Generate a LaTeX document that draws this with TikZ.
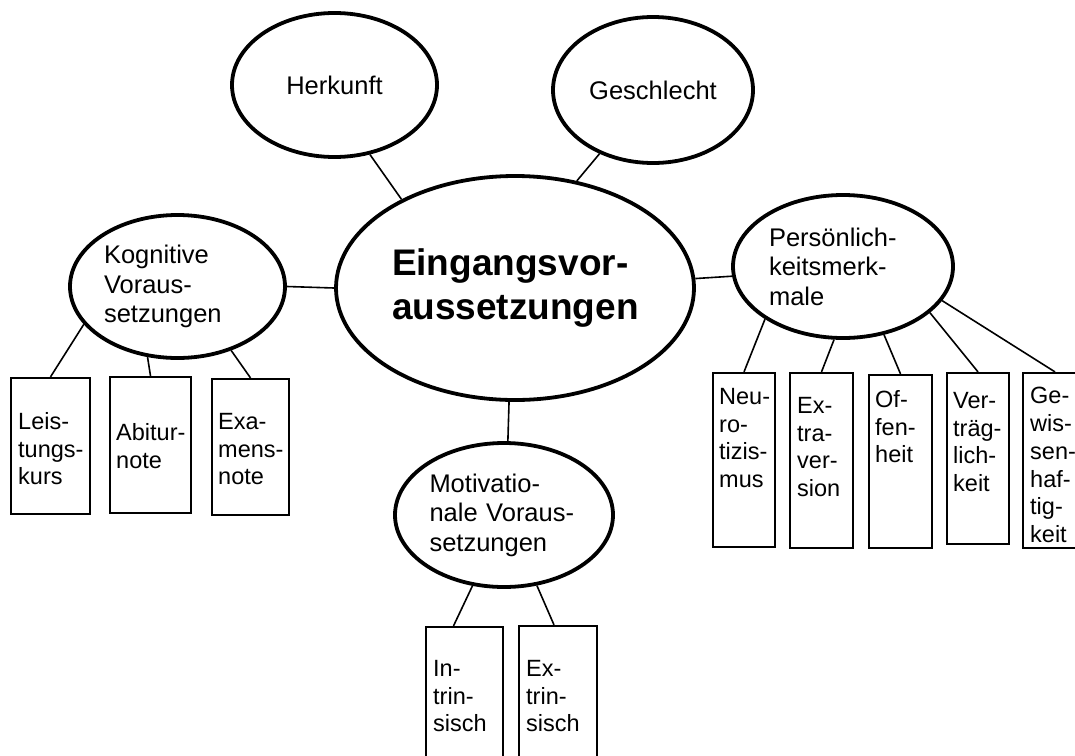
\documentclass[tikz,border=0pt]{standalone}
\usepackage{fontspec}
\setmainfont{Liberation Sans}
\usetikzlibrary{shapes.geometric}

\begin{document}
\begin{tikzpicture}[x=1pt, y=-1pt,
    bubble/.style={ellipse, draw, line width=3.8pt, inner sep=0pt, align=left,
                   font=\fontsize{25.5}{29.5}\selectfont},
    box/.style={draw, line width=2.2pt, inner sep=0pt},
    boxtext/.style={anchor=north west, inner sep=0pt, align=left,
                    font=\fontsize{23.5}{27.8}\selectfont},
    link/.style={line width=1.6pt}]
  \useasboundingbox (0,0) rectangle (1075,755);

  % centre
  \node[bubble, minimum width=358pt, minimum height=224pt, text width=246pt,
        font=\fontsize{37}{44}\selectfont\bfseries] (eingang) at (515,288) {Eingangsvor-\\aussetzungen};

  % top
  \node[bubble, minimum width=205pt, minimum height=144pt] (herkunft) at (334.5,85) {Herkunft};
  \node[bubble, minimum width=200pt, minimum height=146pt] (geschlecht) at (653,90) {Geschlecht};
  \draw[link] (herkunft.297) -- (eingang.142);
  \draw[link] (geschlecht.230) -- (eingang.60);

  % left branch
  \node[bubble, minimum width=215pt, minimum height=143pt, text width=147pt] (kognitiv) at (177.5,286.5) {Kognitive\\Voraus-\\setzungen};
  \draw[link] (kognitiv.east) -- (eingang.west);
  \node[box, minimum width=79pt, minimum height=136pt] (leistung) at (50.5,446) {};
  \node[box, minimum width=81pt, minimum height=136pt] (abitur) at (150.5,445) {};
  \node[box, minimum width=77pt, minimum height=136pt] (examen) at (250.5,447) {};
  \node[boxtext] (leistungT) at (18,412) {Leis-\\tungs-\\kurs};
  \node[boxtext] (abiturT) at (116,423) {Abitur-\\note};
  \node[boxtext] (examenT) at (218,413) {Exa-\\mens-\\note};
  \draw[link] (leistung.north) -- (kognitiv.202);
  \draw[link] (abitur.north) -- (kognitiv.247);
  \draw[link] (examen.north) -- (kognitiv.310);

  % right branch
  \node[bubble, minimum width=220pt, minimum height=143pt, text width=148pt] (persoenlich) at (843,266.5) {Persönlich-\\keitsmerk-\\male};
  \draw[link] (eingang.3) -- (persoenlich.185);
  \node[box, minimum width=62pt, minimum height=174pt] (neuro) at (744,460) {};
  \node[box, minimum width=63pt, minimum height=175pt] (extra) at (821.5,460.5) {};
  \node[box, minimum width=63pt, minimum height=173pt] (offen) at (900.5,461.5) {};
  \node[box, minimum width=62pt, minimum height=171pt] (vertrag) at (978,458.5) {};
  \node[box, minimum width=64pt, minimum height=175pt] (gewissen) at (1055,460.5) {};
  \node[boxtext] (neuroT) at (719,388) {Neu-\\ro-\\tizis-\\mus};
  \node[boxtext] (extraT) at (797,397) {Ex-\\tra-\\ver-\\sion};
  \node[boxtext] (offenT) at (875,390) {Of-\\fen-\\heit};
  \node[boxtext] (vertragT) at (953,392) {Ver-\\träg-\\lich-\\keit};
  \node[boxtext] (gewissenT) at (1030,387) {Ge-\\wis-\\sen-\\haf-\\tig-\\keit};
  \draw[link] (neuro.north) -- (persoenlich.214);
  \draw[link] (extra.north) -- (persoenlich.263);
  \draw[link] (offen.north) -- (persoenlich.301);
  \draw[link] (vertrag.north) -- (persoenlich.332);
  \draw[link] (gewissen.north) -- (persoenlich.341);

  % bottom branch
  \node[bubble, minimum width=218pt, minimum height=144pt, text width=149pt] (motivation) at (504,515) {Motivatio-\\nale Voraus-\\setzungen};
  \draw[link] (eingang.267) -- (motivation.87);
  \node[box, minimum width=77pt, minimum height=173pt] (intrinsisch) at (464.5,713.5) {};
  \node[box, minimum width=78pt, minimum height=174pt] (extrinsisch) at (558,713) {};
  \node[boxtext] (intrinsischT) at (433,660) {In-\\trin-\\sisch};
  \node[boxtext] (extrinsischT) at (526,660) {Ex-\\trin-\\sisch};
  \draw[link] ([xshift=-11pt]intrinsisch.north) -- (motivation.246);
  \draw[link] ([xshift=-4pt]extrinsisch.north) -- (motivation.295);
\end{tikzpicture}
\end{document}
